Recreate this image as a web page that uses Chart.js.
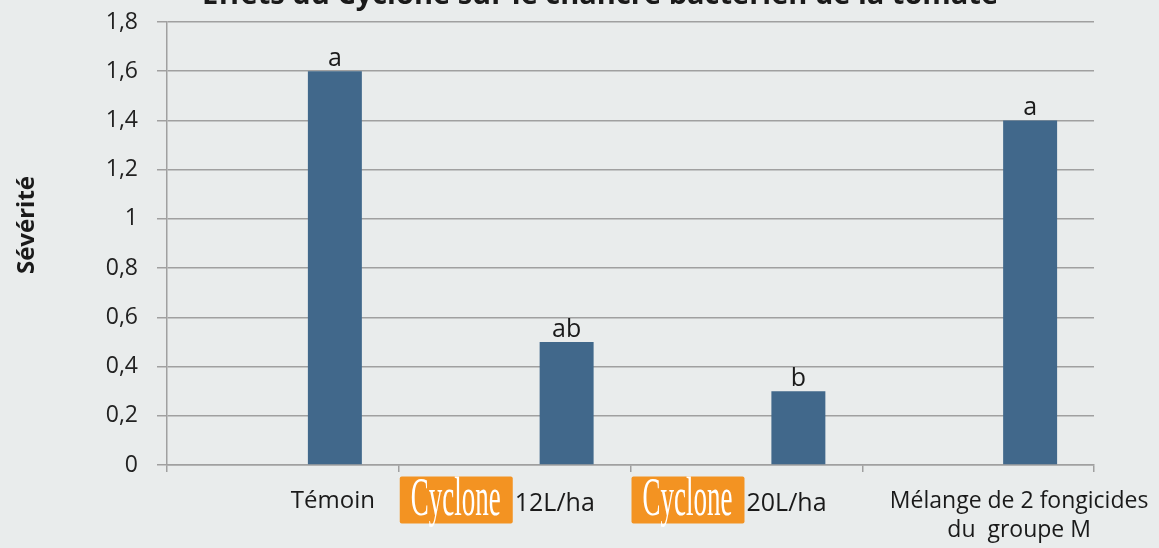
<!DOCTYPE html>
<html>
<head>
<meta charset="utf-8">
<script src="https://cdn.jsdelivr.net/npm/chart.js@4.4.1/dist/chart.umd.min.js"></script>
<style>
  html, body { margin: 0; padding: 0; background: #e9ecec; }
  #wrap { width: 1159px; height: 548px; position: relative; }
</style>
</head>
<body>
<div id="wrap"><canvas id="chart"></canvas></div>
<script>
// Data
const categories = ['Témoin', 'Cyclone 12L/ha', 'Cyclone 20L/ha', ['Mélange de 2 fongicides', 'du  groupe M']];
const severite = [1.6, 0.5, 0.3, 1.4];
const spacer = [null, null, null, null]; // empty first series (bars sit right of centre)
const letters = ['a', 'ab', 'b', 'a'];
const yMax = 1.8;
const yStep = 0.2;

const titleText = 'Effets du Cyclone sur le chancre bactérien de la tomate';
const yTitle = 'Sévérité';

const FONT = '"Open Sans", sans-serif';
const gridColor = '#a0a0a0';
const barColor = '#41688b';
const orange = '#f39322';

function fmt(v) {
  return String(Math.round(v * 10) / 10).replace('.', ',');
}

function drawLogo(ctx, x, yMid) {
  ctx.save();
  ctx.fillStyle = orange;
  ctx.beginPath();
  ctx.roundRect(x, yMid - 23.5, 113, 47, 2);
  ctx.fill();
  ctx.font = '54px "Liberation Serif", serif';
  const w = ctx.measureText('Cyclone').width;
  ctx.translate(x + 11, yMid + 15);
  ctx.scale(90 / w, 1);
  ctx.fillStyle = '#ffffff';
  ctx.textAlign = 'left';
  ctx.textBaseline = 'alphabetic';
  ctx.fillText('Cyclone', 0, 0);
  ctx.restore();
}

const decorations = {
  id: 'decorations',
  beforeDraw(chart) {
    const ctx = chart.ctx;
    ctx.save();
    ctx.fillStyle = '#e9ecec';
    ctx.fillRect(0, 0, chart.width, chart.height);
    ctx.restore();
  },
  afterDatasetsDraw(chart) {
    const ctx = chart.ctx;
    const meta = chart.getDatasetMeta(1);
    ctx.save();
    ctx.fillStyle = '#1a1a1a';
    ctx.font = '25px ' + FONT;
    ctx.textAlign = 'center';
    ctx.textBaseline = 'alphabetic';
    meta.data.forEach((bar, i) => {
      ctx.fillText(letters[i], bar.x, bar.y - 5);
    });
    ctx.restore();
  },
  afterDraw(chart) {
    const ctx = chart.ctx;
    const xs = chart.scales.x;
    const area = chart.chartArea;
    ctx.save();

    // title (cut off at the top as in the original)
    ctx.fillStyle = '#1a1a1a';
    ctx.font = 'bold 29px ' + FONT;
    ctx.textAlign = 'center';
    ctx.textBaseline = 'alphabetic';
    ctx.fillText(titleText, 600, 4);

    // y axis title
    ctx.save();
    ctx.translate(27, 225);
    ctx.rotate(-Math.PI / 2);
    ctx.font = 'bold 24px ' + FONT;
    ctx.textBaseline = 'middle';
    ctx.fillText(yTitle, 0, 0);
    ctx.restore();

    // category labels
    const half = (xs.getPixelForValue(1) - xs.getPixelForValue(0)) / 2;
    categories.forEach((cat, i) => {
      const cx = xs.getPixelForValue(i);
      ctx.fillStyle = '#1a1a1a';
      if (Array.isArray(cat)) {
        ctx.font = '23px ' + FONT;
        ctx.textAlign = 'center';
        cat.forEach((line, j) => ctx.fillText(line, cx + 41, area.bottom + 43 + j * 29));
      } else if (cat.startsWith('Cyclone ')) {
        const left = cx - half + 1;
        drawLogo(ctx, left, area.bottom + 35);
        ctx.fillStyle = '#1a1a1a';
        ctx.font = '25px ' + FONT;
        ctx.textAlign = 'left';
        ctx.fillText(cat.slice(8), left + 115, area.bottom + 46);
      } else {
        ctx.font = '24px ' + FONT;
        ctx.textAlign = 'center';
        ctx.fillText(cat, cx + 50, area.bottom + 43);
      }
    });
    ctx.restore();
  }
};

new Chart(document.getElementById('chart'), {
  type: 'bar',
  data: {
    labels: categories,
    datasets: [
      { label: '', data: spacer, backgroundColor: 'rgba(0,0,0,0)' },
      { label: yTitle, data: severite, backgroundColor: barColor }
    ]
  },
  options: {
    responsive: true,
    maintainAspectRatio: false,
    animation: false,
    datasets: { bar: { categoryPercentage: 0.8975, barPercentage: 0.519 } },
    layout: { padding: { top: 22, right: 65, left: 0, bottom: 0 } },
    plugins: {
      legend: { display: false },
      tooltip: { enabled: false }
    },
    scales: {
      x: {
        ticks: { display: false },
        grid: { display: true, drawOnChartArea: false, offset: true, tickLength: 7, color: gridColor, lineWidth: 1.5 },
        border: { display: true, color: gridColor, width: 1.5 },
        afterFit(scale) { scale.height = 83; scale.paddingLeft = 0; scale.paddingRight = 0; }
      },
      y: {
        min: 0,
        max: yMax,
        ticks: {
          stepSize: yStep,
          padding: 19,
          color: '#222222',
          font: { family: FONT, size: 23 },
          callback: v => fmt(v)
        },
        grid: { color: gridColor, lineWidth: 1.5, tickLength: 10 },
        border: { display: true, color: gridColor, width: 1.5 },
        afterFit(scale) { scale.width = 167; scale.paddingTop = 0; scale.paddingBottom = 0; }
      }
    }
  },
  plugins: [decorations]
});
</script>
</body>
</html>
